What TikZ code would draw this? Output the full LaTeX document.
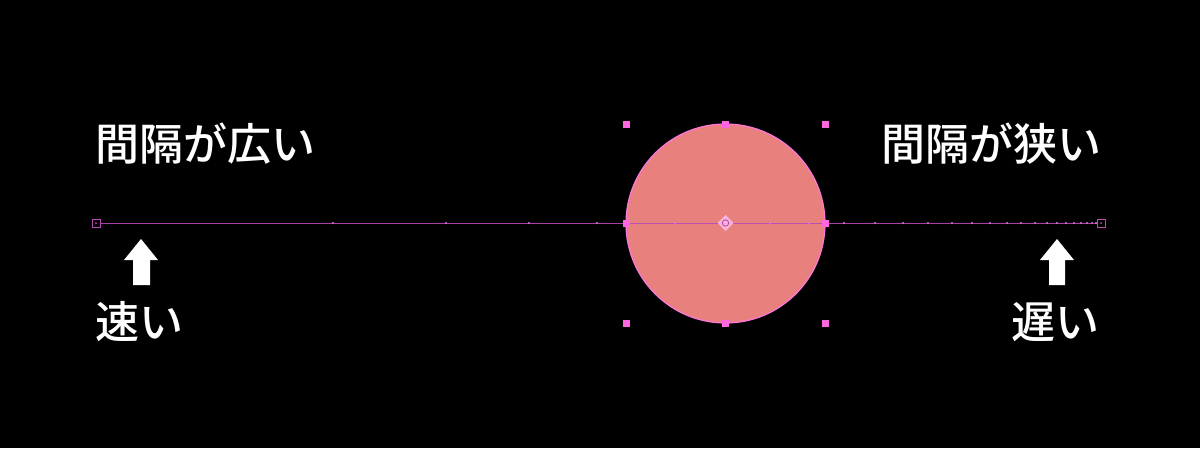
\documentclass[tikz,border=0pt]{standalone}
\usepackage{fontspec}
\newfontfamily\cjk{Noto Sans CJK JP Medium}
\definecolor{salmon}{HTML}{E8807E}
\definecolor{handle}{HTML}{FF66E0}
\definecolor{ring}{HTML}{FF77DD}
\definecolor{pathc}{HTML}{B848B8}
\definecolor{tick}{HTML}{E070E0}
\tikzset{
  label/.style={inner sep=0pt, anchor=base west, text=white, font=\cjk\fontsize{44}{44}\selectfont},
  hnd/.style={draw=none, fill=handle, minimum size=7pt, inner sep=0pt, rectangle},
  endbox/.style={draw=pathc, line width=1pt, minimum size=8pt, inner sep=0pt, rectangle},
  bigarrow/.style={fill=white, draw=none},
  dotmark/.style={fill=tick, draw=none}
}
\begin{document}
\begin{tikzpicture}[x=1pt,y=-1pt]
\fill[black] (0,0) rectangle (1200,448);
\useasboundingbox (0,0) rectangle (1200,448);

% ball
\node[circle, fill=salmon, draw=ring, line width=1.2pt, minimum size=199pt, inner sep=0pt] (ball) at (725.5,223.5) {};

% motion path
\node[endbox] (startp) at (96,223) {};
\node[endbox] (endp) at (1101,223) {};
\fill[pathc] (startp.center) circle (1pt);
\fill[pathc] (endp.center) circle (1pt);
\draw[pathc, line width=1pt, opacity=0.9] (startp.east) -- (endp.west);
\foreach \x in {333,446,529,597,675,770,809,844,875,903,928,952,972,990,1007,1021,1035,1047,1057,1066,1074,1081,1087,1092,1096}
  \fill[dotmark] (\x,223) circle (1.1pt);

% selection handles
\node[hnd] (hnw) at (626,124) {};
\node[hnd] (hn)  at (725.5,124) {};
\node[hnd] (hne) at (825,124) {};
\node[hnd] (hw)  at (626,223) {};
\node[hnd] (he)  at (825,223) {};
\node[hnd] (hsw) at (626,323) {};
\node[hnd] (hs)  at (725.5,323) {};
\node[hnd] (hse) at (825,323) {};

% anchor point marker
\coordinate (ctr) at (725.5,223);
\fill[handle!40!white, opacity=0.8] (725.5,215) -- (733.5,223) -- (725.5,231) -- (717.5,223) -- cycle;
\draw[handle!70!black, line width=0.8pt] (ctr) circle (3.2pt);

% labels
\node[label] (wide) at (95,160) {間隔が広い};
\node[label] (narrow) at (881,160) {間隔が狭い};
\node[label] (fast) at (95,338) {速い};
\node[label] (slow) at (1011,338) {遅い};

% arrows
\fill[bigarrow] (141,239) -- (158,260) -- (150,260) -- (150,285) -- (133,285) -- (133,260) -- (124,260) -- cycle;
\fill[bigarrow] (1057,239) -- (1074,260) -- (1065,260) -- (1065,285) -- (1049,285) -- (1049,260) -- (1040,260) -- cycle;
\end{tikzpicture}
\end{document}
